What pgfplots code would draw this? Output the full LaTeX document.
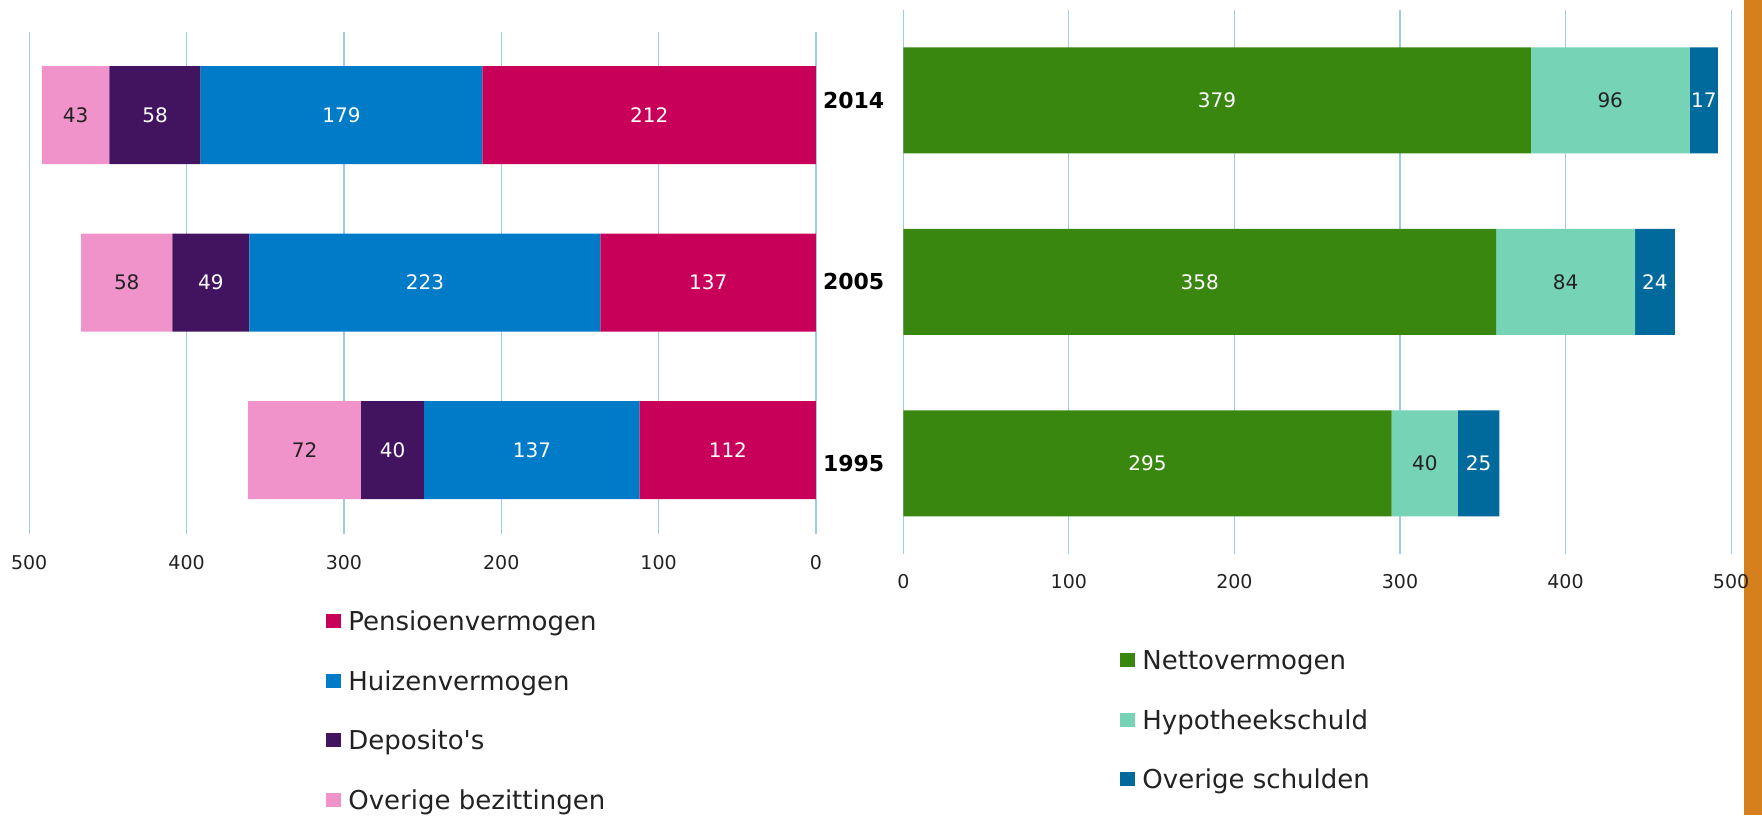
\documentclass[border=0pt]{standalone}
\usepackage{pgfplots}
\pgfplotsset{compat=1.18}
\usepackage{fontspec}
\setmainfont{DejaVu Sans}

\definecolor{pens}{HTML}{C8005A}
\definecolor{huis}{HTML}{007BC7}
\definecolor{depo}{HTML}{42145F}
\definecolor{overb}{HTML}{F093CB}
\definecolor{netto}{HTML}{3A870F}
\definecolor{hypo}{HTML}{76D3B6}
\definecolor{schuld}{HTML}{006A9C}
\definecolor{gridblue}{HTML}{9DCBEC}
\definecolor{orangebar}{HTML}{D5801D}
\definecolor{txt}{HTML}{222222}

\newcommand\tickfont{\fontsize{9.5}{11}\selectfont}
\newcommand\barfont{\fontsize{10}{12}\selectfont}
\newcommand\yearfont{\fontsize{11}{13}\selectfont\bfseries}
\newcommand\legfont{\fontsize{13}{15.6}\selectfont}

\pgfplotsset{
  sqlegend/.style={legend image code/.code={\fill[##1] (0pt,-3.5pt) rectangle (7.5pt,3.5pt);}},
  bars/.style={
    xbar stacked, scale only axis, enlargelimits=false, clip=false,
    ymin=-0.5, ymax=2.5, xmin=0, xmax=500,
    xtick={0,100,...,500}, ytick={0,1,2},
    xmajorgrids, major grid style={color=gridblue, line width=0.6pt},
    axis line style={draw=none}, tick style={draw=none},
    /pgf/number format/assume math mode=true,
    xticklabel style={font=\tickfont, text=txt},
    point meta=explicit,
    nodes near coords,
    every node near coord/.append style={anchor=center, font=\barfont, text=txt},
    every axis plot post/.append style={sqlegend},
    legend cell align=left,
    legend style={draw=none, fill=none, font=\legfont, text=txt, inner sep=0pt,
      row sep=13.2pt, column sep=3.5pt, anchor=north west,
      nodes={inner sep=0pt, text height=13pt, text depth=3.5pt}},
  },
}

\begin{document}
\begin{tikzpicture}
\useasboundingbox (0,0) rectangle (881pt,-407.5pt);
\fill[orangebar] (871.85pt,0) rectangle (881pt,-407.5pt);

% bezittingen (links, gespiegeld)
\begin{axis}[bars, at={(14.6pt,-15.75pt)}, anchor=north west,
  width=393.4pt, height=251.2pt, x dir=reverse, bar width=49pt,
  yticklabels={}, xticklabel style={yshift=-7.4pt},
  legend style={at={(0.3772,-0.1405)}}]
\addplot[fill=pens, draw=none, every node near coord/.append style={text=white}]
  coordinates {(112,0)[112] (137,1)[137] (212,2)[212]};
\addplot[fill=huis, draw=none, every node near coord/.append style={text=white}]
  coordinates {(137,0)[137] (223,1)[223] (179,2)[179]};
\addplot[fill=depo, draw=none, every node near coord/.append style={text=white}]
  coordinates {(40,0)[40] (49,1)[49] (58,2)[58]};
\addplot[fill=overb, draw=none]
  coordinates {(72,0)[72] (58,1)[58] (43,2)[43]};
\legend{Pensioenvermogen, Huizenvermogen, Deposito\textquotesingle s, Overige bezittingen}
\end{axis}

% schulden en nettovermogen (rechts)
\begin{axis}[bars, at={(451.65pt,-4.75pt)}, anchor=north west,
  width=413.9pt, height=272.3pt, bar width=53pt,
  yticklabels={1995,2005,2014},
  yticklabel style={font=\yearfont, text=black, xshift=-6pt},
  xticklabel style={yshift=-6.4pt},
  legend style={at={(0.2618,-0.164)}}]
\addplot[fill=netto, draw=none, every node near coord/.append style={text=white}]
  coordinates {(295,0)[295] (358,1)[358] (379,2)[379]};
\addplot[fill=hypo, draw=none]
  coordinates {(40,0)[40] (84,1)[84] (96,2)[96]};
\addplot[fill=schuld, draw=none, every node near coord/.append style={text=white}]
  coordinates {(25,0)[25] (24,1)[24] (17,2)[17]};
\legend{Nettovermogen, Hypotheekschuld, Overige schulden}
\end{axis}
\end{tikzpicture}
\end{document}
